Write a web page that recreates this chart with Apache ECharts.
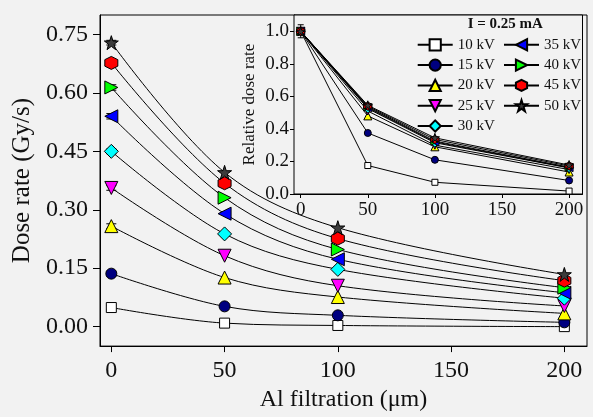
<!DOCTYPE html>
<html>
<head>
<meta charset="utf-8">
<script src="https://cdn.jsdelivr.net/npm/echarts@6/dist/echarts.min.js"></script>
<style>
html,body{margin:0;padding:0;background:#f2f2f2;}
#chart{width:593px;height:417px;}
</style>
</head>
<body>
<div id="chart"></div>
<script>
// ---- data ----
const filtration = [0, 50, 100, 200];
const xTicks = [0, 50, 100, 150, 200];
const yTicksMain = [0, 0.15, 0.30, 0.45, 0.60, 0.75];
const yTicksInset = [0, 0.2, 0.4, 0.6, 0.8, 1.0];
const seriesNames = ['10 kV', '15 kV', '20 kV', '25 kV', '30 kV', '35 kV', '40 kV', '45 kV', '50 kV'];

// Dose rate (Gy/s), main panel
const dose10 = [0.049, 0.009, 0.003, 0.000];
const dose15 = [0.136, 0.052, 0.029, 0.011];
const dose20 = [0.258, 0.126, 0.076, 0.034];
const dose25 = [0.356, 0.182, 0.105, 0.053];
const dose30 = [0.450, 0.238, 0.147, 0.073];
const dose35 = [0.540, 0.290, 0.173, 0.087];
const dose40 = [0.614, 0.331, 0.198, 0.100];
const dose45 = [0.677, 0.368, 0.226, 0.118];
const dose50 = [0.729, 0.396, 0.254, 0.134];

// Relative dose rate, inset
const rel10 = [1.0, 0.175, 0.072, 0.018];
const rel15 = [1.0, 0.375, 0.210, 0.083];
const rel20 = [1.0, 0.480, 0.290, 0.135];
const rel25 = [1.0, 0.510, 0.300, 0.150];
const rel30 = [1.0, 0.525, 0.315, 0.160];
const rel35 = [1.0, 0.530, 0.320, 0.162];
const rel40 = [1.0, 0.535, 0.325, 0.165];
const rel45 = [1.0, 0.540, 0.335, 0.172];
const rel50 = [1.0, 0.545, 0.345, 0.178];

// error bars at zero filtration
const mainErr = [0.006, 0.006, 0.006, 0.006, 0.006, 0.007, 0.007, 0.006, 0.006];
const insetErr = 0.04;

// ---- styles ----
const doseSets = [dose10, dose15, dose20, dose25, dose30, dose35, dose40, dose45, dose50];
const relSets = [rel10, rel15, rel20, rel25, rel30, rel35, rel40, rel45, rel50];
const HEX = 'path://M50,0 L93.3,25 L93.3,75 L50,100 L6.7,75 L6.7,25 Z';
const STAR = 'path://M50,0 L61.2,34.5 L97.6,34.5 L68.2,55.9 L79.4,90.5 L50,69.1 L20.6,90.5 L31.8,55.9 L2.4,34.5 L38.8,34.5 Z';
const styles = [
  {symbol: 'rect', rot: 0, color: '#ffffff', size: 10},
  {symbol: 'circle', rot: 0, color: '#000080', size: 11},
  {symbol: 'triangle', rot: 0, color: '#ffff00', size: 13},
  {symbol: 'triangle', rot: 180, color: '#ff00ff', size: 13},
  {symbol: 'diamond', rot: 0, color: '#00ffff', size: 14},
  {symbol: 'triangle', rot: 90, color: '#0000ff', size: 13},
  {symbol: 'triangle', rot: -90, color: '#00ff00', size: 13},
  {symbol: HEX, rot: 0, color: '#ff0000', size: 13},
  {symbol: STAR, rot: 0, color: '#3c3c3c', size: 14}
];
const FONT = '"Liberation Serif", "Times New Roman", serif';
const TXT = '#111111';

const series = [];
seriesNames.forEach((name, i) => {
  const s = styles[i];
  series.push({
    name: name, type: 'line', xAxisIndex: 0, yAxisIndex: 0,
    data: filtration.map((x, j) => [x, doseSets[i][j]]),
    smooth: 0.35,
    symbol: s.symbol, symbolRotate: s.rot, symbolSize: s.size,
    lineStyle: {color: '#000', width: 1},
    itemStyle: {color: s.color, borderColor: '#000', borderWidth: 1},
    emphasis: {disabled: true}, z: 3
  });
});
function errRender(cap) {
  return function (params, api) {
    const x = api.value(0), lo = api.value(1), hi = api.value(2);
    const a = api.coord([x, lo]), b = api.coord([x, hi]);
    const st = {stroke: '#000', lineWidth: 1};
    return {type: 'group', children: [
      {type: 'line', shape: {x1: a[0], y1: a[1], x2: b[0], y2: b[1]}, style: st},
      {type: 'line', shape: {x1: a[0] - cap, y1: a[1], x2: a[0] + cap, y2: a[1]}, style: st},
      {type: 'line', shape: {x1: b[0] - cap, y1: b[1], x2: b[0] + cap, y2: b[1]}, style: st}
    ]};
  };
}
series.push({
  type: 'custom', xAxisIndex: 0, yAxisIndex: 0, z: 2,
  data: doseSets.map((d, i) => [filtration[0], d[0] - mainErr[i], d[0] + mainErr[i]]),
  renderItem: errRender(5), silent: true
});
seriesNames.forEach((name, i) => {
  const s = styles[i];
  series.push({
    name: name, type: 'line', xAxisIndex: 1, yAxisIndex: 1,
    data: filtration.map((x, j) => [x, relSets[i][j]]),
    symbol: s.symbol, symbolRotate: s.rot, symbolSize: Math.round(s.size * 0.62),
    lineStyle: {color: '#000', width: 1},
    itemStyle: {color: s.color, borderColor: '#000', borderWidth: 1},
    emphasis: {disabled: true}, z: 5
  });
});
series.push({
  type: 'custom', xAxisIndex: 1, yAxisIndex: 1, z: 4,
  data: [[filtration[0], 1 - insetErr, 1 + insetErr]],
  renderItem: errRender(3), silent: true
});

const legendCommon = {
  orient: 'vertical', padding: 0, itemWidth: 35, itemHeight: 14, itemGap: 5.3,
  textStyle: {fontFamily: FONT, fontSize: 15, color: TXT, lineHeight: 14},
  selectedMode: false
};

const option = {
  backgroundColor: '#f2f2f2',
  animation: false,
  grid: [
    {left: 100, right: 6, top: 15, bottom: 70, show: true, borderColor: '#000', borderWidth: 1, backgroundColor: 'transparent'},
    {left: 294, right: 10.5, top: 15, bottom: 223, show: true, borderColor: '#000', borderWidth: 1, backgroundColor: '#f2f2f2', z: 1}
  ],
  xAxis: [
    {type: 'value', gridIndex: 0, min: -5, max: 210,
     name: 'Al filtration (μm)', nameLocation: 'middle', nameGap: 41,
     nameTextStyle: {fontFamily: FONT, fontSize: 24, color: TXT},
     axisLine: {show: true, onZero: false, lineStyle: {color: '#000'}},
     axisTick: {show: true, inside: false, length: 6, customValues: xTicks, lineStyle: {color: '#000'}},
     axisLabel: {customValues: xTicks, fontFamily: FONT, fontSize: 24, color: TXT, margin: 13},
     splitLine: {show: false}},
    {type: 'value', gridIndex: 1, min: -5, max: 210,
     axisLine: {show: true, onZero: false, lineStyle: {color: '#000'}},
     axisTick: {show: true, inside: false, length: 4, customValues: xTicks, lineStyle: {color: '#000'}},
     axisLabel: {customValues: xTicks, fontFamily: FONT, fontSize: 19, color: TXT, margin: 7},
     splitLine: {show: false}}
  ],
  yAxis: [
    {type: 'value', gridIndex: 0, min: -0.05, max: 0.8,
     name: 'Dose rate (Gy/s)', nameLocation: 'middle', nameGap: 56,
     nameTextStyle: {fontFamily: FONT, fontSize: 25, color: TXT},
     axisLine: {show: true, onZero: false, lineStyle: {color: '#000'}},
     axisTick: {show: true, inside: false, length: 7, customValues: yTicksMain, lineStyle: {color: '#000'}},
     axisLabel: {customValues: yTicksMain, fontFamily: FONT, fontSize: 24, color: TXT, margin: 12,
                 formatter: v => v.toFixed(2)},
     splitLine: {show: false}},
    {type: 'value', gridIndex: 1, min: 0, max: 1.1,
     name: 'Relative dose rate', nameLocation: 'middle', nameGap: 36,
     nameTextStyle: {fontFamily: FONT, fontSize: 17, color: TXT},
     axisLine: {show: true, onZero: false, lineStyle: {color: '#000'}},
     axisTick: {show: true, inside: false, length: 4, customValues: yTicksInset, lineStyle: {color: '#000'}},
     axisLabel: {customValues: yTicksInset, fontFamily: FONT, fontSize: 19, color: TXT, margin: 5,
                 formatter: v => v.toFixed(1)},
     splitLine: {show: false}}
  ],
  legend: [
    Object.assign({left: 416.7, top: 37.3, data: seriesNames.slice(0, 5)}, legendCommon),
    Object.assign({left: 503, top: 37.3, data: seriesNames.slice(5)}, legendCommon)
  ],
  graphic: [
    {type: 'text', left: 506.7 - 39, top: 17, z: 10,
     style: {text: 'I = 0.25 mA', fontFamily: FONT, fontSize: 15, fontWeight: 'bold', fill: TXT}}
  ],
  series: series
};

const chart = echarts.init(document.getElementById('chart'), null, {renderer: 'canvas'});
chart.setOption(option);
</script>
</body>
</html>
